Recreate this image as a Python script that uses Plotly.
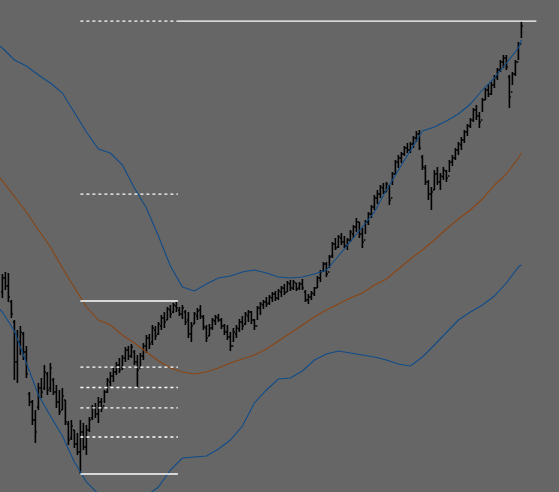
import plotly.graph_objects as go

# ---- OHLC data (bar index = trading day) ----
high = [218,220,219,192,172,162,166,160,146,100,92,82,109,114,127,120,129,114,107,102,
        104,92,71,72,62,59,72,69,67,75,87,89,95,94,102,114,120,124,130,134,
        137,145,146,148,142,137,139,149,157,158,167,166,170,177,180,185,187,189,191,185,
        187,182,180,170,180,184,187,177,167,168,174,177,178,174,168,167,160,164,167,173,
        176,180,182,181,173,186,190,192,195,197,200,201,203,206,208,211,212,212,209,210,
        213,202,198,201,205,216,222,230,230,237,250,254,257,259,256,254,262,267,274,270,
        264,272,280,287,297,302,307,309,310,307,320,332,337,340,346,349,350,356,361,362,
        337,327,312,305,322,325,319,325,322,332,337,344,350,355,362,368,374,384,387,380,
        394,404,408,410,417,424,432,437,437,417,420,432,450,471]
low = [194,202,190,174,112,109,137,132,114,86,67,49,82,94,102,97,100,97,84,77,
       82,67,47,52,44,37,18,42,37,60,72,74,69,80,89,99,106,110,117,119,
       122,130,132,134,127,105,125,132,139,143,147,152,157,162,164,172,174,179,180,176,
       173,167,154,150,168,172,173,162,150,156,162,167,170,163,157,152,141,150,154,160,
       162,167,170,168,162,172,177,183,185,187,190,191,192,195,197,200,201,202,201,202,
       202,190,188,192,196,204,210,220,215,224,234,242,244,247,244,242,250,254,260,254,
       244,258,267,274,282,288,294,298,300,287,307,317,324,329,336,339,339,344,350,342,
       322,307,292,282,302,307,302,312,310,320,326,332,337,342,349,356,364,370,372,364,
       380,392,395,397,404,412,420,424,422,384,407,416,432,454]
open_ = [200,214,206,190,170,130,150,158,140,98,90,72,85,104,104,118,104,112,100,90,
         82,92,68,54,62,48,40,60,45,62,74,84,78,90,86,100,110,116,120,127,
         124,134,142,136,140,130,124,136,146,154,150,162,158,166,174,172,182,180,186,182,
         178,180,172,158,168,176,182,175,164,156,164,171,174,172,166,160,155,146,158,163,
         170,168,176,180,172,166,184,187,190,189,194,198,194,200,204,200,208,204,209,204,
         208,200,192,195,198,204,214,221,228,220,236,248,245,254,250,246,252,258,265,270,
         258,252,270,278,285,294,298,304,300,306,294,318,330,334,338,344,342,348,354,358,
         335,324,310,298,302,318,310,315,321,316,330,334,342,347,352,360,366,372,382,376,
         372,392,402,398,407,415,422,430,434,415,400,418,430,448]
close = [214,206,195,178,130,150,160,140,118,90,72,60,104,100,120,102,124,100,90,80,
         96,70,52,66,48,40,60,45,62,72,84,78,90,84,100,112,116,120,127,122,
         134,142,136,145,130,122,136,146,154,148,164,156,168,174,170,183,178,187,184,178,
         184,170,158,166,178,181,176,165,154,164,172,175,172,166,160,155,146,160,164,170,
         166,178,180,172,166,184,188,190,188,195,198,194,201,204,199,209,204,210,203,208,
         204,192,195,199,204,214,220,228,218,235,248,244,255,250,246,252,260,265,270,258,
         250,270,278,285,294,298,305,300,308,292,318,330,334,338,344,342,348,354,358,344,
         325,310,298,300,318,310,316,322,314,330,334,342,348,352,360,366,372,382,376,370,
         392,402,398,407,415,422,430,434,425,395,418,430,448,466]

# ---- band data (read at sampled bar indices) ----
band_idx = [-1,0,4,8,12,16,20,24,28,32,36,40,44,48,52,56,60,64,68,72,76,80,84,88,92,96,
            100,104,108,112,116,120,124,128,132,136,140,144,148,152,156,160,164,168,172,173]
upper_band = [446,444,432,426,417,409,399,380,360,343,339,327,304,284,256,226,205,201,208,214,
              216,220,222,219,215,214,215,218,222,236,250,265,280,302,322,342,361,365,371,378,
              388,402,414,429,444,452]
middle_band = [315,311,296,280,262,245,224,205,185,172,167,157,149,140,131,124,120,118,120,124,
               129,133,137,143,151,159,167,175,182,188,194,199,207,213,223,233,242,252,263,273,
               282,293,307,318,334,339]
lower_band = [183,180,161,128,97,76,56,30,10,-2,-8,-13,-10,-4,5,22,34,35,36,43,
              52,66,89,102,113,114,121,132,138,141,139,137,135,132,128,126,135,147,159,172,
              180,187,196,209,225,227]

# ---- Fibonacci ratios ----
fib_ratios = [0, 0.214, 0.382, 0.5, 0.618, 1, 1.618, 2.618]

n = len(high)
x = list(range(n))

i_low = min(range(n), key=lambda i: low[i])
seg = range(i_low, i_low + 60)
i_high = max(seg, key=lambda i: high[i])
lo_p, hi_p = low[i_low], high[i_high]

fig = go.Figure()

BLUE = "#0F4C8A"
BROWN = "#8B4513"
fig.add_trace(go.Scatter(x=band_idx, y=upper_band, mode="lines",
                         line=dict(color=BLUE, width=1.1), hoverinfo="skip"))
fig.add_trace(go.Scatter(x=band_idx, y=middle_band, mode="lines",
                         line=dict(color=BROWN, width=1.1), hoverinfo="skip"))
fig.add_trace(go.Scatter(x=band_idx, y=lower_band, mode="lines",
                         line=dict(color=BLUE, width=1.1), hoverinfo="skip"))

for r in fib_ratios:
    p = lo_p + r * (hi_p - lo_p)
    solid = r in (0, 1)
    fig.add_trace(go.Scatter(x=[i_low, i_high + 0.5], y=[p, p], mode="lines",
                             line=dict(color="white", width=1.3,
                                       dash="solid" if solid else "3px,3px"),
                             hoverinfo="skip"))
    if r == fib_ratios[-1]:
        fig.add_trace(go.Scatter(x=[i_high + 0.5, n - 1 + 5], y=[p, p], mode="lines",
                                 line=dict(color="white", width=1.3),
                                 hoverinfo="skip"))

fig.add_trace(go.Ohlc(x=x, open=open_, high=high, low=low, close=close,
                      increasing=dict(line=dict(color="black", width=1.6)),
                      decreasing=dict(line=dict(color="black", width=1.6)),
                      tickwidth=0.5, hoverinfo="skip"))

fig.update_layout(
    width=559, height=492,
    margin=dict(l=0, r=0, t=0, b=0),
    paper_bgcolor="#666666", plot_bgcolor="#666666",
    showlegend=False,
    xaxis=dict(visible=False, range=[-0.8, -0.8 + 559 / 3], rangeslider=dict(visible=False)),
    yaxis=dict(visible=False, range=[0, 492]),
)

fig.write_html("out.html",
               config={"displayModeBar": False},
               post_script="document.body.style.margin='0';document.body.style.padding='0';"
                           "document.body.style.overflow='hidden';")
